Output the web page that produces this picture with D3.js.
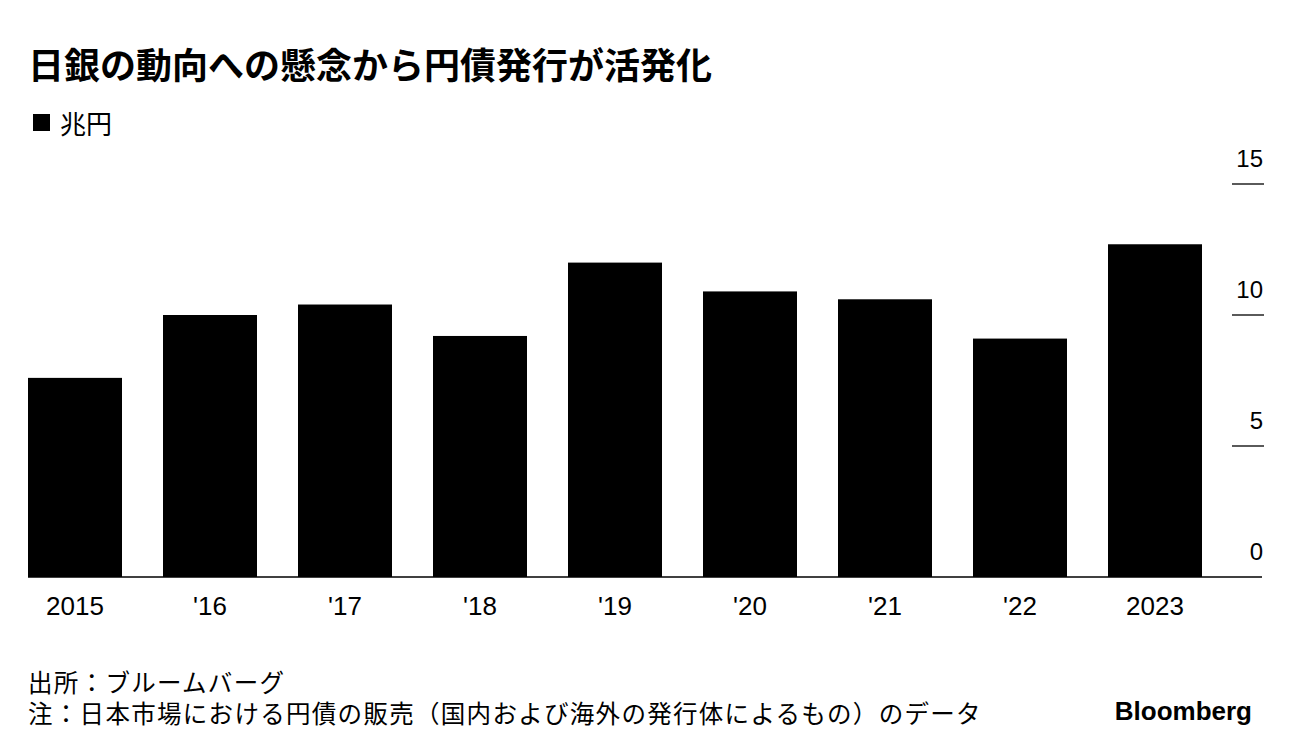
<!DOCTYPE html>
<html><head><meta charset="utf-8">
<script src="https://cdn.jsdelivr.net/npm/d3@7"></script>
<style>
html,body{margin:0;padding:0;background:#fff;}
.cjk{font-family:"Noto Sans CJK JP","Noto Sans",sans-serif;}
.lat{font-family:"Liberation Sans",Arial,Helvetica,sans-serif;}
</style></head>
<body><svg id="c" width="1292" height="754"></svg>
<script>
const categories = ["2015","'16","'17","'18","'19","'20","'21","'22","2023"];
const values = [7.6, 10.0, 10.4, 9.2, 12.0, 10.9, 10.6, 9.1, 12.7];
const yTicks = [0, 5, 10, 15];
const title = "日銀の動向への懸念から円債発行が活発化";
const unitLabel = "兆円";
const notes = ["出所：ブルームバーグ", "注：日本市場における円債の販売（国内および海外の発行体によるもの）のデータ"];

const svg = d3.select("#c");
const x = d3.scaleBand().domain(categories).range([28, 1202]).paddingInner(0.3037).paddingOuter(0);
const y = d3.scaleLinear().domain([0, 15]).range([577, 184]);

svg.append("text").attr("class", "cjk").attr("x", 28).attr("y", 79).attr("font-size", 36).attr("font-weight", 700)
  .attr("fill", "#000").text(title);

svg.append("rect").attr("x", 33).attr("y", 114).attr("width", 17).attr("height", 17).attr("fill", "#000");
svg.append("text").attr("class", "cjk").attr("x", 60).attr("y", 134).attr("font-size", 26).attr("fill", "#000").text(unitLabel);

svg.append("g").selectAll("rect").data(values).join("rect")
  .attr("x", (d, i) => x(categories[i]))
  .attr("width", x.bandwidth())
  .attr("y", d => y(d))
  .attr("height", d => y(0) - y(d))
  .attr("fill", "#000");

// y ticks on the right
const yg = svg.append("g");
yTicks.forEach(t => {
  if (t > 0) {
    yg.append("line").attr("x1", 1232).attr("x2", 1264).attr("y1", y(t)).attr("y2", y(t))
      .attr("stroke", "#000").attr("stroke-width", 1.3);
  }
  yg.append("text").attr("class", "lat").attr("x", 1263).attr("y", y(t) - 17).attr("text-anchor", "end")
    .attr("font-size", 24).attr("fill", "#000").text(t);
});

svg.append("line").attr("x1", 28).attr("x2", 1262).attr("y1", y(0)).attr("y2", y(0))
  .attr("stroke", "#000").attr("stroke-width", 1.5);

svg.append("g").selectAll("text").data(categories).join("text")
  .attr("class", "lat")
  .attr("x", d => x(d) + x.bandwidth() / 2)
  .attr("y", 615)
  .attr("text-anchor", "middle")
  .attr("font-size", 26).attr("fill", "#000").text(d => d);

notes.forEach((n, i) => {
  svg.append("text").attr("class", "cjk").attr("x", 28).attr("y", 692 + i * 31)
    .attr("font-size", 24.5).attr("letter-spacing", 1.3).attr("fill", "#000").text(n);
});

svg.append("text").attr("class", "lat").attr("x", 1252).attr("y", 720).attr("text-anchor", "end")
  .attr("font-size", 26).attr("font-weight", 700).attr("fill", "#000").text("Bloomberg");
</script></body></html>
